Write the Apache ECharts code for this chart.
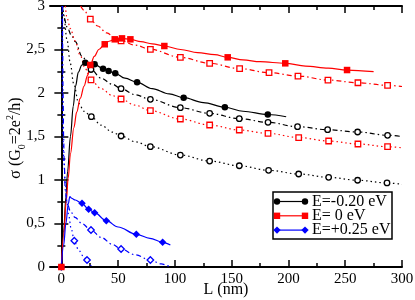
<!DOCTYPE html>
<html><head><meta charset="utf-8">
<script src="https://cdn.jsdelivr.net/npm/echarts@6/dist/echarts.min.js"></script>
<style>html,body{margin:0;padding:0;background:#fff}#c{width:415px;height:300px}</style>
</head><body><div id="c"></div>
<script>
// ---- axis ticks / labels ----
const xMajorTicks = [0, 50, 100, 150, 200, 250, 300];
const xMinorTicks = [25, 75, 125, 175, 225, 275];
const xRange = [-10, 300];
const yRange = [0, 3];
const yStep = 0.5;
const legendLabels = ['E=-0.20 eV', 'E= 0 eV', 'E=+0.25 eV'];
const xTitle = 'L (nm)';

// ---- E = -0.20 eV (black) ----
const blackSolidLine = [[0,0],[2,0.4],[4,0.8],[5.5,1.1],[8,1.5],[10.5,1.85],[12.5,2.08],[15,2.24],[18,2.32],[21.1,2.348],[25,2.34],[29.3,2.33],[36.7,2.28],[41.6,2.253],[47.5,2.226],[56,2.17],[66.7,2.123],[80,2.05],[95,1.99],[107.7,1.946],[125,1.89],[144,1.836],[160,1.79],[181.8,1.753],[198,1.727]];
const blackSolidMarks = [[0,0],[21.1,2.348],[29.3,2.33],[36.7,2.28],[41.6,2.253],[47.5,2.226],[66.7,2.123],[107.7,1.946],[144,1.836],[181.8,1.753]];
const blackDashDotLine = [[1,3.0],[2,2.88],[5,2.76],[9,2.66],[12.3,2.59],[18.2,2.42],[26.1,2.27],[35,2.17],[45,2.1],[52.6,2.05],[65,1.98],[78.4,1.927],[104.8,1.831],[130.6,1.766],[156.7,1.705],[182,1.663],[208,1.613],[234.5,1.578],[260.9,1.552],[287.3,1.514],[300,1.5]];
const blackDashDotMarks = [[26.1,2.27],[52.6,2.05],[78.4,1.927],[104.8,1.831],[130.6,1.766],[156.7,1.705],[182,1.663],[208,1.613],[234.5,1.578],[260.9,1.552],[287.3,1.514]];
const blackDotLine = [[1.5,3.0],[2,2.9],[5,2.61],[7.9,2.34],[10.8,2.11],[15.3,1.88],[20,1.79],[26.4,1.728],[35,1.63],[45,1.55],[52.6,1.506],[65,1.44],[78.4,1.383],[104.8,1.287],[130.6,1.218],[156.7,1.164],[182.5,1.111],[209,1.069],[235.4,1.031],[260.9,0.997],[286.8,0.966],[300,0.95]];
const blackDotMarks = [[26.4,1.728],[52.6,1.506],[78.4,1.383],[104.8,1.287],[130.6,1.218],[156.7,1.164],[182.5,1.111],[209,1.069],[235.4,1.031],[260.9,0.997],[286.8,0.966]];

// ---- E = 0 eV (red) ----
const redSolidLine = [[0,0],[2,0.36],[4.4,0.77],[6,1.02],[8,1.3],[11,1.6],[13.5,1.78],[16.7,1.94],[20,2.08],[23,2.2],[25.5,2.322],[29,2.42],[33,2.5],[38.2,2.56],[42,2.595],[47,2.617],[53.4,2.628],[60.8,2.617],[70,2.59],[80,2.565],[90.7,2.54],[105,2.5],[120,2.465],[135,2.44],[146.5,2.41],[160,2.38],[175,2.36],[197.2,2.341],[215,2.31],[235,2.285],[251.6,2.264],[275,2.245]];
const redSolidMarks = [[0,0],[25.5,2.322],[38.2,2.56],[47,2.617],[53.4,2.628],[60.8,2.617],[90.7,2.54],[146.5,2.41],[197.2,2.341],[251.6,2.264]];
const redDashDotLine = [[17,3.0],[20,2.95],[25.5,2.85],[32,2.77],[40,2.69],[47.5,2.635],[52.6,2.6],[65,2.55],[78.4,2.502],[104.8,2.41],[130.6,2.341],[157,2.28],[182.9,2.234],[208.4,2.195],[234.8,2.149],[261.2,2.118],[287.3,2.088],[300,2.075]];
const redDashDotMarks = [[25.5,2.85],[52.6,2.6],[78.4,2.502],[104.8,2.41],[130.6,2.341],[157,2.28],[182.9,2.234],[208.4,2.195],[234.8,2.149],[261.2,2.118],[287.3,2.088]];
const redDotLine = [[3.5,3.0],[5,2.86],[8,2.74],[12,2.6],[16.7,2.43],[21,2.28],[26.1,2.15],[35,2.05],[45,1.97],[52.6,1.931],[65,1.86],[78.4,1.797],[104.8,1.701],[130.6,1.632],[156.7,1.575],[182,1.536],[209,1.488],[235.4,1.448],[261.2,1.414],[287.3,1.383],[300,1.37]];
const redDotMarks = [[26.1,2.15],[52.6,1.931],[78.4,1.797],[104.8,1.701],[130.6,1.632],[156.7,1.575],[182,1.536],[209,1.488],[235.4,1.448],[261.2,1.414],[287.3,1.383]];

// ---- E = +0.25 eV (blue) ----
const blueSolidLine = [[0,0],[2,0.25],[4,0.5],[6,0.72],[7.5,0.81],[9,0.79],[12.3,0.77],[18.2,0.732],[24,0.663],[29.3,0.624],[39.6,0.532],[50,0.46],[66,0.376],[78,0.33],[89.2,0.284],[96,0.253]];
const blueSolidMarks = [[0,0],[18.2,0.732],[24,0.663],[29.3,0.624],[39.6,0.532],[66,0.376],[89.2,0.284]];
const blueDashDotLine = [[1.0,3.0],[1.2,2.5],[1.5,2.0],[2.0,1.5],[2.5,1.2],[3.5,0.88],[5,0.74],[8,0.64],[12,0.57],[18,0.5],[26.1,0.425],[35,0.34],[45,0.26],[52.6,0.207],[65,0.14],[78.4,0.08],[88,0.035],[96,0.0]];
const blueDashDotMarks = [[26.1,0.425],[52.6,0.207],[78.4,0.08]];
const blueDotLine = [[0.6,3.0],[0.8,2.3],[1.0,1.9],[1.4,1.5],[2.2,1.2],[3.5,0.96],[5,0.74],[6.4,0.6],[8.5,0.45],[11.4,0.302],[15,0.2],[19,0.13],[22.6,0.08],[26,0.02],[27,0]];
const blueDotMarks = [[11.4,0.302],[22.6,0.08]];

// ---- styling ----
const FONT = 'Liberation Serif';
const BLACK = '#000000', RED = '#ff0000', BLUE = '#0000ff';
const DASHDOT = [5, 3, 1.5, 3];
const DOT = [1.5, 3];

function lineS(data, color, type) {
  return { type: 'line', data, symbol: 'none', showSymbol: false, smooth: 0.35, smoothMonotone: 'x',
    lineStyle: { color, width: 1.2, type }, z: 2, silent: true };
}
function markS(data, color, symbol, size, filled) {
  return { type: 'scatter', data, symbol, symbolSize: size, z: 3, silent: true,
    itemStyle: { color: filled ? color : '#ffffff', borderColor: color, borderWidth: filled ? 0 : 1.3, opacity: 1 } };
}

const series = [
  lineS(blackDotLine, BLACK, DOT), lineS(blackDashDotLine, BLACK, DASHDOT), lineS(blackSolidLine, BLACK, 'solid'),
  lineS(redDotLine, RED, DOT), lineS(redDashDotLine, RED, DASHDOT), lineS(redSolidLine, RED, 'solid'),
  lineS(blueDotLine, BLUE, DOT), lineS(blueDashDotLine, BLUE, DASHDOT), lineS(blueSolidLine, BLUE, 'solid'),
  markS(blackDotMarks, BLACK, 'circle', 5.5, false), markS(blackDashDotMarks, BLACK, 'circle', 5.5, false),
  markS(redDotMarks, RED, 'rect', 5.5, false), markS(redDashDotMarks, RED, 'rect', 5.5, false),
  markS(blueDotMarks, BLUE, 'diamond', 6.5, false), markS(blueDashDotMarks, BLUE, 'diamond', 6.5, false),
  markS(blueSolidMarks, BLUE, 'diamond', 7.5, true),
  markS(blackSolidMarks, BLACK, 'circle', 6.5, true),
  markS(redSolidMarks, RED, 'rect', 6.5, true)
];

const axisLineStyle = { show: true, lineStyle: { color: '#000', width: 2 } };
function xAx(position, labels, ticks, len, line) {
  return { type: 'value', position, min: xRange[0], max: xRange[1],
    axisLine: line ? axisLineStyle : { show: false },
    axisTick: { show: true, inside: true, length: len, customValues: ticks, lineStyle: { color: '#000', width: 1.5 } },
    axisLabel: labels ? { show: true, customValues: xMajorTicks, margin: 5, color: '#000', fontFamily: FONT, fontSize: 15 } : { show: false },
    splitLine: { show: false } };
}
function yAx(position, labels) {
  return { type: 'value', position, min: yRange[0], max: yRange[1], interval: yStep,
    axisLine: axisLineStyle,
    axisTick: { show: true, inside: true, length: 7, lineStyle: { color: '#000', width: 1.5 } },
    minorTick: { show: true, splitNumber: 2, length: 4, lineStyle: { color: '#000', width: 1.5 } },
    axisLabel: labels ? { show: true, margin: 5, color: '#000', fontFamily: FONT, fontSize: 15,
      formatter: v => String(v).replace('.', ',') } : { show: false },
    splitLine: { show: false }, minorSplitLine: { show: false } };
}

// legend drawn as graphic elements
const legendColors = [BLACK, RED, BLUE];
const legendSymbols = ['circle', 'rect', 'diamond'];
const legendEls = [{ type: 'rect', shape: { x: 273, y: 192, width: 119, height: 47 },
  style: { fill: '#fff', stroke: '#000', lineWidth: 1.5 }, z: 10 }];
legendLabels.forEach((lab, i) => {
  const y = 201.5 + i * 14.3, c = legendColors[i];
  legendEls.push({ type: 'line', shape: { x1: 277, y1: y, x2: 305, y2: y }, style: { stroke: c, lineWidth: 1.2 }, z: 11 });
  [277, 305].forEach(x => {
    if (legendSymbols[i] === 'circle') legendEls.push({ type: 'circle', shape: { cx: x, cy: y, r: 3.2 }, style: { fill: c }, z: 12 });
    else if (legendSymbols[i] === 'rect') legendEls.push({ type: 'rect', shape: { x: x - 3.2, y: y - 3.2, width: 6.4, height: 6.4 }, style: { fill: c }, z: 12 });
    else legendEls.push({ type: 'polygon', shape: { points: [[x, y - 3.7], [x + 3.7, y], [x, y + 3.7], [x - 3.7, y]] }, style: { fill: c }, z: 12 });
  });
  legendEls.push({ type: 'text', x: 312, y: y, style: { text: lab, fill: '#000', font: '16px "Liberation Serif"', verticalAlign: 'middle', textAlign: 'left' }, z: 12 });
});
// x-axis title
legendEls.push({ type: 'text', x: 226, y: 290,
  style: { text: xTitle, fill: '#000', font: '16px "Liberation Serif"', textAlign: 'center', verticalAlign: 'middle' }, z: 10 });
// y-axis title (rotated, with sub/superscript)
legendEls.push({ type: 'text', x: 16, y: 138, rotation: Math.PI / 2,
  style: { text: 'σ (G{sub|0}=2e{sup|2}/h)', fill: '#000', fontFamily: FONT, fontSize: 16, lineHeight: 22,
    textAlign: 'center', verticalAlign: 'middle',
    rich: { sub: { fontSize: 10, fontFamily: FONT, lineHeight: 10, verticalAlign: 'bottom', fill: '#000' },
            sup: { fontSize: 10, fontFamily: FONT, lineHeight: 10, verticalAlign: 'top', fill: '#000' } } }, z: 10 });

const chart = echarts.init(document.getElementById('c'), null, { renderer: 'canvas' });
chart.setOption({
  animation: false,
  backgroundColor: '#ffffff',
  grid: { left: 50, right: 13, top: 6, bottom: 33, containLabel: false, outerBoundsMode: 'none' },
  xAxis: [ xAx('bottom', true, xMajorTicks, 7, true), xAx('bottom', false, xMinorTicks, 4, false),
           xAx('top', false, xMajorTicks, 7, true), xAx('top', false, xMinorTicks, 4, false) ],
  yAxis: [ yAx('left', true), yAx('right', false) ],
  series,
  graphic: legendEls
});
</script></body></html>
